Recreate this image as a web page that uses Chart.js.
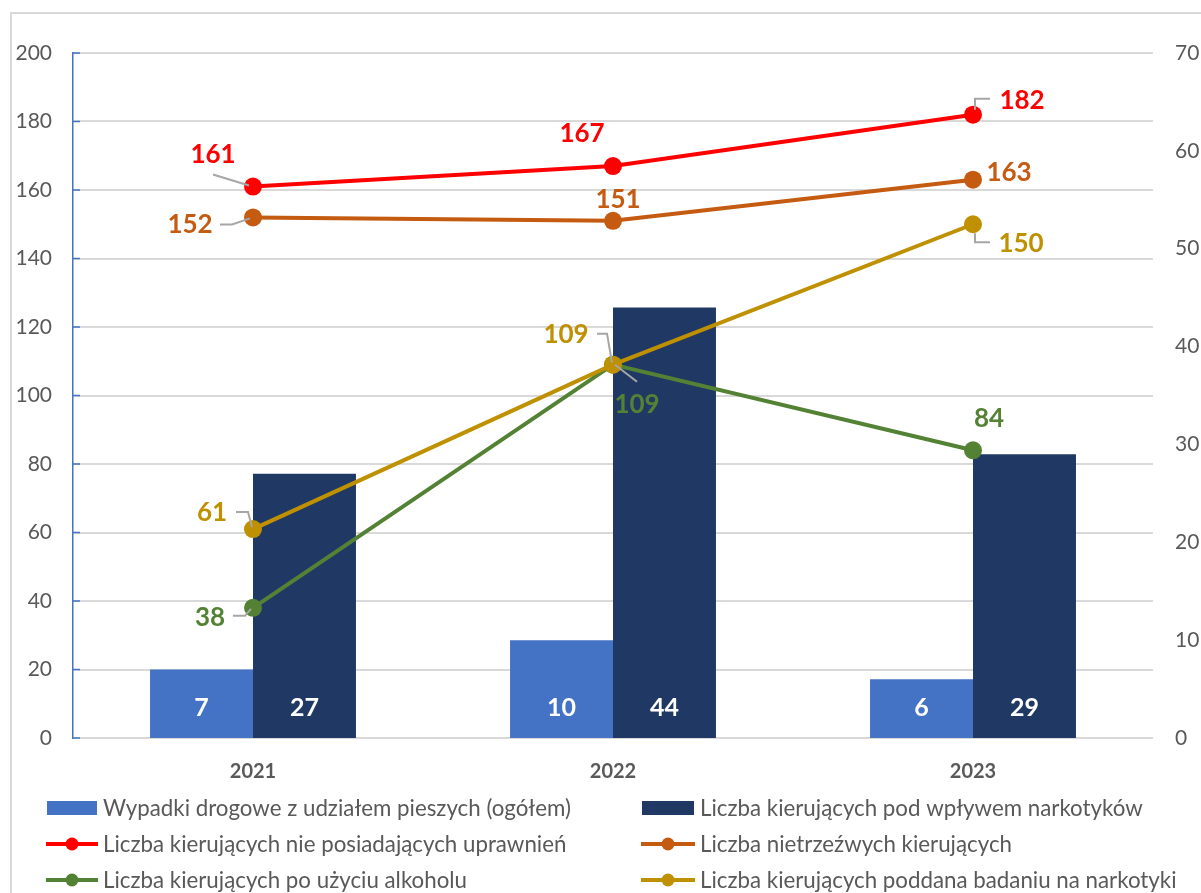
<!DOCTYPE html>
<html>
<head>
<meta charset="utf-8">
<script src="https://cdn.jsdelivr.net/npm/chart.js@4.4.1/dist/chart.umd.min.js"></script>
<style>
  html, body { margin: 0; padding: 0; background: #fff; overflow: hidden; }
  #frame { position: absolute; left: 10px; top: 12px; width: 1300px; height: 1000px; border: 2px solid #d9d9d9; box-sizing: border-box; }
  #c { position: absolute; left: 0; top: 0; }
</style>
</head>
<body>
<div id="frame"></div>
<canvas id="c" width="1201" height="893"></canvas>
<script>
// ---- data ----
const categories = ['2021', '2022', '2023'];
const wypadkiPieszych = [7, 10, 6];              // right axis (bars)
const podWplywemNarkotykow = [27, 44, 29];       // right axis (bars)
const bezUprawnien = [161, 167, 182];            // left axis (lines)
const nietrzezwi = [152, 151, 163];
const poAlkoholu = [38, 109, 84];
const badaniNarkotyki = [61, 109, 150];
const leftTicks = [0, 20, 40, 60, 80, 100, 120, 140, 160, 180, 200];
const rightTicks = [0, 10, 20, 30, 40, 50, 60, 70];

const FONT = 'Lato, "Open Sans", sans-serif';
const GRAY = '#595959';

// label placement (relative to point) and leader lines
const labelPlacement = {
  red:    [{dx:-40,dy:-32, leader:[[-40,-12],[-4,-1]]}, {dx:-31,dy:-32}, {dx:49,dy:-14, leader:[[2,-5],[2,-16],[17,-16]]}],
  orange: [{dx:-63,dy:7, leader:[[-33,7],[-21,7],[-3,1]]}, {dx:5,dy:-21}, {dx:36,dy:-7}],
  green:  [{dx:-43,dy:10, leader:[[-20,8],[-8,8],[-2,1]]}, {dx:24,dy:40, leader:[[2,0],[24,17]]}, {dx:16,dy:-32}],
  gold:   [{dx:-41,dy:-16, leader:[[-17,-17],[-5,-17],[-1,-2]]}, {dx:-47,dy:-30, leader:[[-16,-31],[-6,-31],[-1,-2]]}, {dx:48,dy:19, leader:[[2,9],[2,18],[17,18]]}]
};

const legendItems = [
  {text:'Wypadki drogowe z udziałem pieszych (ogółem)', color:'#4472C4', type:'bar', col:0, row:0},
  {text:'Liczba kierujących pod wpływem narkotyków', color:'#203864', type:'bar', col:1, row:0},
  {text:'Liczba kierujących nie posiadających uprawnień', color:'#FF0000', type:'line', col:0, row:1},
  {text:'Liczba nietrzeźwych kierujących', color:'#C55A11', type:'line', col:1, row:1},
  {text:'Liczba kierujących po użyciu alkoholu', color:'#548235', type:'line', col:0, row:2},
  {text:'Liczba kierujących poddana badaniu na narkotyki', color:'#BF9000', type:'line', col:1, row:2}
];

function lineDs(label, data, color, key, order) {
  return {
    type: 'line', label, data, yAxisID: 'y', order,
    borderColor: color, backgroundColor: color, borderWidth: 4,
    pointRadius: 9, pointBackgroundColor: color, pointBorderColor: color, pointBorderWidth: 0,
    tension: 0, _key: key
  };
}

const labelsPlugin = {
  id: 'customLabels',
  afterDatasetsDraw(chart) {
    const ctx = chart.ctx;
    ctx.save();
    // inward ticks on left axis
    const ys = chart.scales.y;
    ctx.strokeStyle = '#4472C4';
    ctx.lineWidth = 1.5;
    leftTicks.forEach(v => {
      const y = ys.getPixelForValue(v);
      ctx.beginPath(); ctx.moveTo(chart.chartArea.left, y); ctx.lineTo(chart.chartArea.left + 7, y); ctx.stroke();
    });
    chart.data.datasets.forEach((ds, di) => {
      const meta = chart.getDatasetMeta(di);
      if (ds.type === 'bar') {
        ctx.font = 'bold 25px ' + FONT;
        ctx.fillStyle = '#ffffff';
        ctx.textAlign = 'center';
        ctx.textBaseline = 'middle';
        meta.data.forEach((el, i) => {
          ctx.fillText(String(ds.data[i]), el.x, el.base - 30);
        });
      } else {
        const pl = labelPlacement[ds._key];
        meta.data.forEach((el, i) => {
          const p = pl[i];
          if (p.leader) {
            ctx.strokeStyle = '#a6a6a6';
            ctx.lineWidth = 2;
            ctx.beginPath();
            p.leader.forEach((pt, k) => {
              if (k === 0) ctx.moveTo(el.x + pt[0], el.y + pt[1]);
              else ctx.lineTo(el.x + pt[0], el.y + pt[1]);
            });
            ctx.stroke();
          }
          ctx.font = 'bold 26px ' + FONT;
          ctx.fillStyle = ds.borderColor;
          ctx.textAlign = 'center';
          ctx.textBaseline = 'middle';
          ctx.fillText(String(ds.data[i]), el.x + p.dx, el.y + p.dy);
        });
      }
    });
    ctx.restore();
  },
  afterDraw(chart) {
    const ctx = chart.ctx;
    ctx.save();
    const cols = [{m0:46, m1:98, tx:103}, {m0:641, m1:695, tx:700}];
    const rows = [808, 844, 880];
    ctx.font = '22.3px ' + FONT;
    ctx.textBaseline = 'middle';
    ctx.textAlign = 'left';
    legendItems.forEach(it => {
      const c = cols[it.col], y = rows[it.row];
      if (it.type === 'bar') {
        ctx.fillStyle = it.color;
        ctx.fillRect(c.m0 + 1, y - 7, c.m1 - c.m0 - 2, 14);
      } else {
        ctx.strokeStyle = it.color; ctx.lineWidth = 4;
        ctx.beginPath(); ctx.moveTo(c.m0, y); ctx.lineTo(c.m1, y); ctx.stroke();
        ctx.fillStyle = it.color;
        ctx.beginPath(); ctx.arc((c.m0 + c.m1) / 2, y, 6.5, 0, Math.PI * 2); ctx.fill();
      }
      ctx.fillStyle = GRAY;
      ctx.fillText(it.text, c.tx, y + 1);
    });
    ctx.restore();
  }
};

new Chart(document.getElementById('c'), {
  data: {
    labels: categories,
    datasets: [
      {type:'bar', label:legendItems[0].text, data: wypadkiPieszych, yAxisID:'y1', backgroundColor:'#4472C4', order: 20, categoryPercentage: 0.572, barPercentage: 1},
      {type:'bar', label:legendItems[1].text, data: podWplywemNarkotykow, yAxisID:'y1', backgroundColor:'#203864', order: 20, categoryPercentage: 0.572, barPercentage: 1},
      lineDs(legendItems[2].text, bezUprawnien, '#FF0000', 'red', 4),
      lineDs(legendItems[3].text, nietrzezwi, '#C55A11', 'orange', 3),
      lineDs(legendItems[4].text, poAlkoholu, '#548235', 'green', 2),
      lineDs(legendItems[5].text, badaniNarkotyki, '#BF9000', 'gold', 1)
    ]
  },
  options: {
    responsive: false,
    animation: false,
    layout: { padding: { top: 53, left: 0, right: 0, bottom: 0 } },
    plugins: { legend: { display: false }, tooltip: { enabled: false } },
    scales: {
      x: {
        grid: { display: false, drawTicks: false },
        border: { display: false },
        ticks: { color: GRAY, font: { family: FONT, size: 20, weight: 'bold' }, padding: 22 },
        afterFit(s) { s.height = 155; }
      },
      y: {
        position: 'left', min: 0, max: 200,
        afterBuildTicks(s) { s.ticks = leftTicks.map(v => ({ value: v })); },
        grid: { color: '#d9d9d9', lineWidth: 2, drawTicks: false },
        border: { display: true, color: '#4472C4', width: 1.5 },
        ticks: { color: GRAY, font: { family: FONT, size: 21 }, padding: 21 },
        afterFit(s) { s.width = 73; }
      },
      y1: {
        position: 'right', min: 0, max: 70,
        afterBuildTicks(s) { s.ticks = rightTicks.map(v => ({ value: v })); },
        grid: { display: false, drawTicks: false },
        border: { display: false },
        ticks: { color: GRAY, font: { family: FONT, size: 21 }, padding: 22 },
        afterFit(s) { s.width = 48; }
      }
    }
  },
  plugins: [labelsPlugin]
});
</script>
</body>
</html>
